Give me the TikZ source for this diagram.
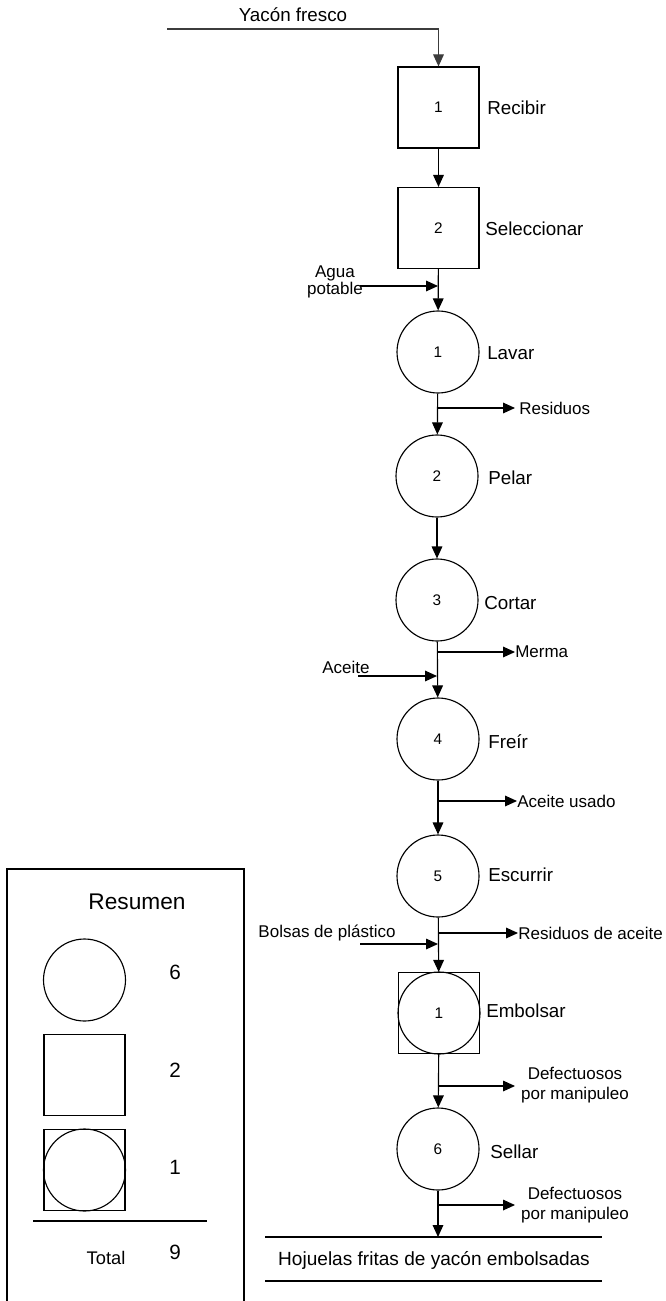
\documentclass[tikz,border=0pt]{standalone}
\usepackage{fontspec}
\setmainfont{Liberation Sans}
\usetikzlibrary{arrows.meta}
\definecolor{dgray}{RGB}{60,60,60}
\begin{document}
\begin{tikzpicture}[x=0.75pt,y=-0.75pt,
  lw/.style={line width=0.85pt},
  arr/.style={lw,-{Triangle[length=9pt,width=8pt]}},
  opbox/.style={draw,lw,rectangle,minimum size=60.75pt,inner sep=0pt,font=\fontsize{11.5}{13}\selectfont},
  opcirc/.style={draw,lw,circle,minimum size=61.5pt,inner sep=0pt,font=\fontsize{11.5}{13}\selectfont},
  mainlbl/.style={anchor=west,inner sep=0pt,font=\fontsize{14.1}{16}\selectfont},
  sidelbl/.style={inner sep=0pt,font=\fontsize{12.75}{15}\selectfont,align=center},
  numlbl/.style={inner sep=0pt,font=\fontsize{15.5}{17}\selectfont}
]
\useasboundingbox (0,0) rectangle (666,1301);

% ---- main column nodes
\node[opbox] (b1) at (438.5,107.5) {1};
\node[opbox] (b2) at (438.5,228) {2};
\node[opcirc] (c1) at (438,352) {1};
\node[opcirc] (c2) at (437,476) {2};
\node[opcirc] (c3) at (437,600) {3};
\node[opcirc] (c4) at (438,739) {4};
\node[opcirc] (c5) at (438,876) {5};
\node[opbox] (e1box) at (439,1013) {};
\node[opcirc] (e1) at (439,1013) {1};
\node[opcirc] (c6) at (438,1149) {6};

% ---- labels of operations
\node[mainlbl] (lb1) at (487,108) {Recibir};
\node[mainlbl] (lb2) at (485,229) {Seleccionar};
\node[mainlbl] (lc1) at (487,353) {Lavar};
\node[mainlbl] (lc2) at (488,478) {Pelar};
\node[mainlbl] (lc3) at (484,603) {Cortar};
\node[mainlbl] (lc4) at (488,742) {Freír};
\node[mainlbl] (lc5) at (488,875) {Escurrir};
\node[mainlbl] (le1) at (486,1011) {Embolsar};
\node[mainlbl] (lc6) at (490,1152) {Sellar};

% ---- input
\node[inner sep=0pt,font=\fontsize{14.1}{16}\selectfont] (yac) at (293,15) {Yacón fresco};
\coordinate (yacS) at (167,29);
\coordinate (yacC) at (438.5,29);
\draw[arr,color=dgray] (yacS) -- (yacC) -- (b1.north);

\draw[arr] (b1) -- (b2);

% Agua potable
\node[sidelbl] (agua) at (335,282) {Agua\\[-2pt]potable};
\coordinate (aguaS) at (360,286);
\coordinate (aguaE) at (438,286);
\draw[arr] (aguaS) -- (aguaE);
\draw[arr] (b2) -- (c1);

% Residuos
\coordinate (j1) at (438,408);
\node[sidelbl,anchor=west] (res1) at (519,408) {Residuos};
\draw[arr] (j1) -- ([xshift=-3pt]res1.west);
\draw[arr] (c1) -- (c2);

\draw[arr] (c2) -- (c3);

% Merma / Aceite
\coordinate (j3) at (437,652);
\node[sidelbl,anchor=west] (merma) at (515,652) {Merma};
\draw[arr] (j3) -- (merma.west);
\node[sidelbl] (aceite) at (346,667) {Aceite};
\coordinate (aceS) at (358,676);
\coordinate (aceE) at (437,676);
\draw[arr] (aceS) -- (aceE);
\draw[arr] (c3) -- (c4);

% Aceite usado
\coordinate (j4) at (438,801);
\node[sidelbl,anchor=west] (ausado) at (517,801) {Aceite usado};
\draw[arr] (j4) -- (ausado.west);
\draw[arr] (c4) -- (c5);

% Residuos de aceite / Bolsas
\coordinate (j5) at (438,933);
\node[sidelbl,anchor=west] (resac) at (518,933) {Residuos de aceite};
\draw[arr] (j5) -- (resac.west);
\node[sidelbl] (bolsas) at (327,933) {Bolsas de plástico};
\coordinate (bolS) at (360,944);
\coordinate (bolE) at (438,944);
\draw[arr] (bolS) -- (bolE);
\draw[arr] (c5) -- (e1box);

% Defectuosos 1
\coordinate (j6) at (438,1086);
\coordinate (d1tip) at (515,1086);
\node[sidelbl] (def1) at (575,1085) {Defectuosos\\[0pt]por manipuleo};
\draw[arr] (j6) -- (d1tip);
\draw[arr] (e1box) -- (c6);

% Defectuosos 2
\coordinate (j7) at (438,1205);
\coordinate (d2tip) at (515,1205);
\node[sidelbl] (def2) at (575,1205) {Defectuosos\\[0pt]por manipuleo};
\draw[arr] (j7) -- (d2tip);

% Final product
\coordinate (fL) at (265,1237);
\coordinate (fR) at (602,1237);
\coordinate (gL) at (265,1281);
\coordinate (gR) at (602,1281);
\coordinate (fT) at (438,1237);
\draw[lw] (fL) -- (fR);
\draw[lw] (gL) -- (gR);
\node[inner sep=0pt,font=\fontsize{14.3}{16}\selectfont] (prod) at (434,1260) {Hojuelas fritas de yacón embolsadas};
\draw[arr] (c6) -- (fT);

% ---- Summary
\draw[lw] (7,1305) -- (7,869) -- (244,869) -- (244,1305);
\node[inner sep=0pt,font=\fontsize{17}{19}\selectfont] (resumen) at (137,902) {Resumen};
\node[opcirc] (sc) at (84.5,980) {};
\node[opbox] (ss) at (84.5,1075) {};
\node[opbox] (scsq) at (84.5,1170) {};
\node[opcirc] (scc) at (84.5,1170) {};
\node[numlbl] (n6) at (175,972) {6};
\node[numlbl] (n2) at (175,1070) {2};
\node[numlbl] (n1) at (175,1167) {1};
\draw[lw] (33,1221) -- (207,1221);
\node[inner sep=0pt,font=\fontsize{13.7}{16}\selectfont] (total) at (106,1258) {Total};
\node[numlbl] (n9) at (175,1252) {9};
\end{tikzpicture}
\end{document}
